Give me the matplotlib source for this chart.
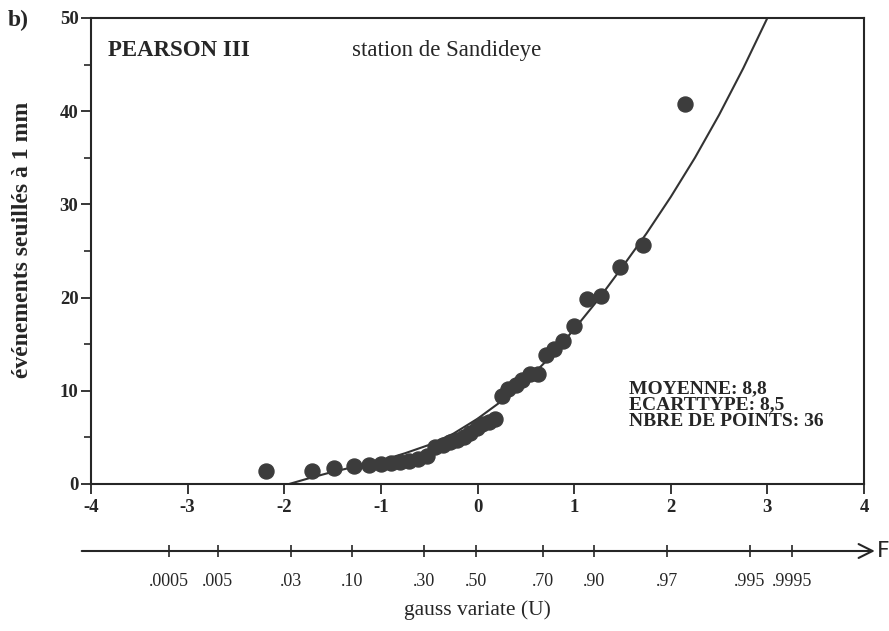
import matplotlib
matplotlib.use("Agg")
import matplotlib.pyplot as plt
from matplotlib.ticker import MultipleLocator

plt.rcParams["axes.unicode_minus"] = False

# ---- data ----
obs_u = [-2.19, -1.71, -1.49, -1.28, -1.12, -1.00, -0.90, -0.80, -0.71, -0.62,
         -0.52, -0.44, -0.36, -0.28, -0.21, -0.14, -0.08, -0.01, 0.05, 0.12,
         0.18, 0.25, 0.32, 0.40, 0.46, 0.54, 0.63, 0.71, 0.79, 0.88,
         1.00, 1.13, 1.28, 1.47, 1.71, 2.15]
obs_val = [1.4, 1.4, 1.7, 1.9, 2.0, 2.1, 2.3, 2.4, 2.5, 2.7,
           3.0, 4.0, 4.2, 4.5, 4.7, 5.0, 5.5, 6.0, 6.4, 6.6,
           7.0, 9.4, 10.2, 10.6, 11.2, 11.8, 11.8, 13.8, 14.5, 15.3,
           17.0, 19.9, 20.2, 23.3, 25.6, 40.8]

fit_u = [-1.95, -1.75, -1.5, -1.25, -1.0, -0.75, -0.5, -0.25, 0.0, 0.25, 0.5,
         0.75, 1.0, 1.25, 1.5, 1.75, 2.0, 2.25, 2.5, 2.75, 3.0]
fit_val = [0.0, 0.6, 1.3, 1.9, 2.5, 3.3, 4.2, 5.4, 7.0, 8.9, 11.0,
           13.6, 16.6, 19.8, 23.3, 26.9, 30.8, 35.0, 39.6, 44.6, 50.0]

x_ticks = [-4, -3, -2, -1, 0, 1, 2, 3, 4]
y_ticks = [0, 10, 20, 30, 40, 50]
prob_labels = [".0005", ".005", ".03", ".10", ".30", ".50", ".70", ".90",
               ".97", ".995", ".9995"]
prob_pos_u = [-3.19, -2.69, -1.935, -1.30, -0.55, -0.02, 0.68, 1.21,
              1.96, 2.82, 3.26]

stats_lines = ["MOYENNE: 8,8", "ECARTTYPE: 8,5", "NBRE DE POINTS: 36"]

# ---- style ----
serif = ["Liberation Serif", "DejaVu Serif"]
ink = "#262626"
W, H = 889, 631
fig = plt.figure(figsize=(W / 100, H / 100), dpi=100)
fig.patch.set_facecolor("white")

L, R, T, B = 91, 864, 18, 484
ax = fig.add_axes([L / W, 1 - B / H, (R - L) / W, (B - T) / H])
ax.set_xlim(-4, 4)
ax.set_ylim(0, 50)

ax.plot(fit_u, fit_val, color="#333333", lw=1.5, solid_capstyle="round",
        zorder=2, clip_on=True)
ax.plot(obs_u, obs_val, "o", color="#3c3c3c", ms=10.8, mec="#3c3c3c",
        zorder=3, clip_on=False)

for s in ax.spines.values():
    s.set_linewidth(1.5)
    s.set_color(ink)

ax.set_xticks(x_ticks)
ax.set_yticks(y_ticks)
ax.yaxis.set_minor_locator(MultipleLocator(5))
ax.tick_params(axis="both", which="major", direction="out", length=7,
               width=1.3, colors=ink)
ax.tick_params(axis="y", which="minor", direction="out", length=5, width=1.2,
               colors=ink)
ax.tick_params(axis="x", pad=4)
ax.tick_params(axis="y", pad=2)
for lab in ax.get_xticklabels() + ax.get_yticklabels():
    lab.set_fontfamily(serif)
    lab.set_fontweight("bold")
    lab.set_fontsize(13.5)
    lab.set_color(ink)

ax.set_ylabel("événements seuillés à 1 mm", family=serif, fontsize=17,
              fontweight="bold", color=ink)
ax.yaxis.set_label_coords(-0.075, 0.524)

ax.text(0.022, 0.93, "PEARSON III", transform=ax.transAxes, family=serif,
        fontsize=16.5, fontweight="bold", color=ink, va="center", ha="left")
ax.text(0.338, 0.93, "station de Sandideye", transform=ax.transAxes,
        family=serif, fontsize=16.5, color=ink, va="center", ha="left")
ax.text(0.696, 0.17, "\n".join(stats_lines), transform=ax.transAxes,
        family=serif, fontsize=14, fontweight="bold", color=ink,
        va="center", ha="left", linespacing=0.95)

fig.text(8 / W, 1 - 20 / H, "b)", family=serif, fontsize=17,
         fontweight="bold", color=ink, va="center", ha="left")

# ---- probability arrow axis ----
AY = 551
ax2 = fig.add_axes([L / W, 1 - AY / H, (R - L) / W, 0.001])
ax2.set_xlim(-4, 4)
ax2.set_ylim(0, 1)
for s in ax2.spines.values():
    s.set_visible(False)
ax2.set_yticks([])
ax2.set_xticks(prob_pos_u)
ax2.set_xticklabels(prob_labels, family=serif, fontsize=13, color=ink)
ax2.tick_params(axis="x", direction="inout", length=9, width=1.2,
                colors=ink, pad=11)
ax2.annotate("", xy=(1.014, 0), xytext=(-0.012, 0),
             xycoords="axes fraction", textcoords="axes fraction",
             arrowprops=dict(arrowstyle="->", lw=1.5, color=ink,
                             mutation_scale=25, shrinkA=0, shrinkB=0),
             annotation_clip=False)
fig.text(877 / W, 1 - AY / H, "F", family=["DejaVu Sans"], fontsize=16,
         color=ink, va="center", ha="left")
ax2.set_xlabel("gauss variate (U)", family=serif, fontsize=15.5, color=ink,
               labelpad=8)

fig.savefig("out.png", dpi=100, facecolor="white")
